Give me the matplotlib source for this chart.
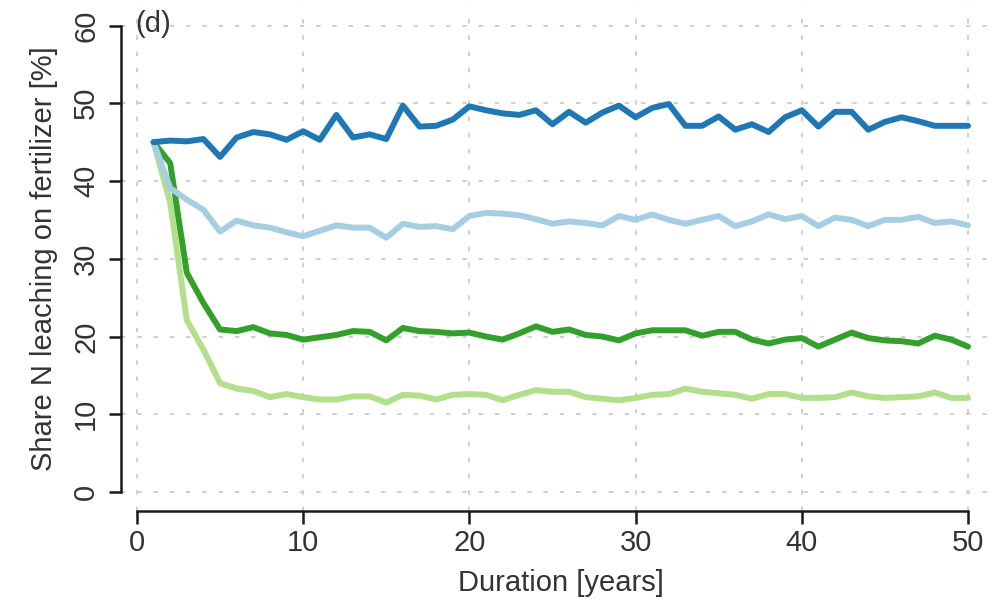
import numpy as np
import matplotlib
matplotlib.use('Agg')
import matplotlib.pyplot as plt

plt.rcParams['font.family'] = ['Liberation Sans', 'DejaVu Sans']

years = np.arange(1, 51)

# Share of N leaching on fertilizer [%] per scenario
dark_blue = [45.0, 45.2, 45.1, 45.4, 43.1, 45.6, 46.3, 46.0, 45.3, 46.4,
             45.3, 48.5, 45.6, 46.0, 45.4, 49.7, 47.0, 47.1, 47.9, 49.6,
             49.1, 48.7, 48.5, 49.1, 47.3, 48.9, 47.5, 48.8, 49.7, 48.2,
             49.4, 49.9, 47.1, 47.1, 48.3, 46.6, 47.3, 46.3, 48.2, 49.1,
             47.0, 48.9, 48.9, 46.6, 47.6, 48.2, 47.7, 47.1, 47.1, 47.1]
light_blue = [45.0, 39.1, 37.6, 36.3, 33.5, 34.9, 34.3, 34.0, 33.4, 32.9,
              33.6, 34.3, 34.0, 34.0, 32.7, 34.5, 34.1, 34.2, 33.8, 35.5,
              35.9, 35.8, 35.6, 35.1, 34.5, 34.8, 34.6, 34.3, 35.5, 35.0,
              35.7, 35.0, 34.5, 35.0, 35.5, 34.2, 34.8, 35.7, 35.1, 35.5,
              34.2, 35.3, 35.0, 34.2, 35.0, 35.0, 35.4, 34.6, 34.8, 34.3]
dark_green = [45.0, 42.3, 28.2, 24.3, 20.9, 20.7, 21.2, 20.4, 20.2, 19.6,
              19.9, 20.2, 20.7, 20.6, 19.5, 21.1, 20.7, 20.6, 20.4, 20.5,
              20.0, 19.6, 20.4, 21.3, 20.6, 20.9, 20.2, 20.0, 19.5, 20.4,
              20.8, 20.8, 20.8, 20.1, 20.6, 20.6, 19.6, 19.1, 19.6, 19.8,
              18.7, 19.6, 20.5, 19.8, 19.5, 19.4, 19.1, 20.1, 19.6, 18.7]
light_green = [45.0, 37.2, 22.1, 18.3, 14.0, 13.3, 13.0, 12.2, 12.6, 12.2,
               11.9, 11.9, 12.3, 12.3, 11.5, 12.5, 12.4, 11.9, 12.5, 12.6,
               12.5, 11.8, 12.5, 13.1, 12.9, 12.9, 12.2, 12.0, 11.8, 12.1,
               12.5, 12.6, 13.3, 12.9, 12.7, 12.5, 12.0, 12.6, 12.6, 12.1,
               12.1, 12.2, 12.8, 12.3, 12.1, 12.2, 12.3, 12.8, 12.1, 12.1]

xticks = [0, 10, 20, 30, 40, 50]
yticks = [0, 10, 20, 30, 40, 50, 60]

fig = plt.figure(figsize=(9.95, 6.07), dpi=100)
ax = fig.add_axes([0.1216, 0.1587, 0.884, 0.830])

# dotted grid like R's grid()
for v in xticks:
    ax.axvline(v, color='#cccccc', lw=1.3, dashes=(2.5, 6.5), zorder=0)
for v in yticks:
    ax.axhline(v, color='#cccccc', lw=1.3, dashes=(2.5, 6.5), zorder=0)

style = dict(lw=4.3, solid_capstyle='round', solid_joinstyle='round')
ax.plot(years, light_green, color='#b2df8a', **style)
ax.plot(years, dark_green, color='#33a02c', **style)
ax.plot(years, light_blue, color='#a6cee3', **style)
ax.plot(years, dark_blue, color='#1f78b4', **style)

ax.set_xlim(-0.96, 51.96)
ax.set_ylim(-2.4, 62.4)
ax.set_xticks(xticks)
ax.set_yticks(yticks)

for s in ['top', 'right']:
    ax.spines[s].set_visible(False)
ax.spines['left'].set_bounds(0, 60)
ax.spines['bottom'].set_bounds(0, 50)
for s in ['left', 'bottom']:
    ax.spines[s].set_linewidth(1.8)
    ax.spines[s].set_color('#1a1a1a')

ax.tick_params(axis='both', length=9, width=1.8, color='#1a1a1a',
               labelsize=21, labelcolor='#333333', pad=4)
ax.tick_params(axis='y', pad=6)
plt.setp(ax.get_yticklabels(), rotation=90, va='center')

ax.set_xlabel('Duration [years]', fontsize=21, color='#333333', labelpad=9)
ax.set_ylabel('Share N leaching on fertilizer [%]', fontsize=21,
              color='#333333', labelpad=10)

ax.text(-0.1, 60.2, '(d)', fontsize=21, color='#333333', ha='left', va='center')

fig.savefig('out.png', dpi=100)
